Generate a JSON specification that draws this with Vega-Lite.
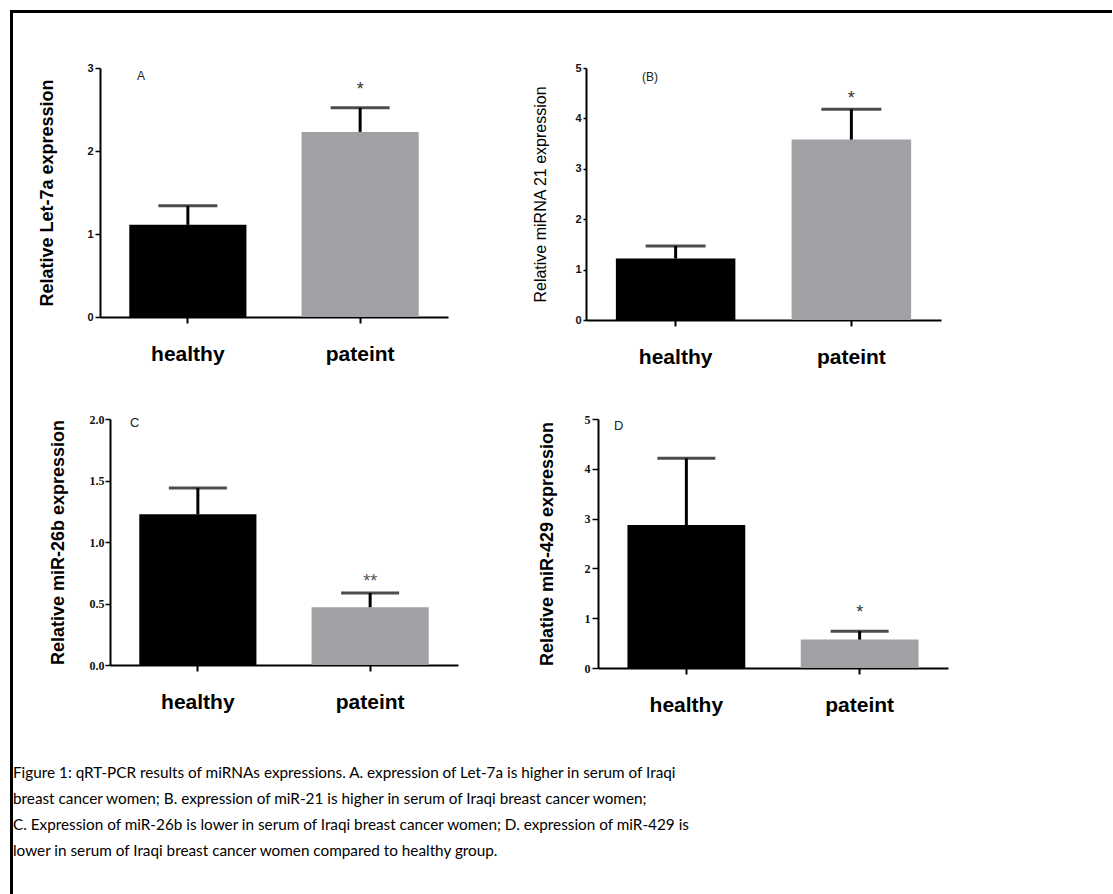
{
  "$schema": "https://vega.github.io/schema/vega-lite/v6.json",
  "padding": {"left": 10, "top": 10, "right": 0, "bottom": 0},
  "background": "white",
  "config": {
    "view": {"stroke": null},
    "font": "Liberation Sans",
    "axisX": {"title": null, "labelAngle": 0, "labelFontSize": 21, "labelFontWeight": "bold", "labelColor": "black", "labelPadding": 20, "domainColor": "black", "domainWidth": 2, "tickColor": "black", "tickSize": 6, "tickWidth": 2},
    "axisY": {"grid": false, "domainColor": "black", "domainWidth": 2, "tickColor": "black", "tickSize": 5, "tickWidth": 1.5, "labelFontSize": 11, "labelFontWeight": "bold", "labelPadding": 2, "labelColor": "#111", "titleColor": "black", "titleFontSize": 18, "titleFontWeight": "bold", "titleBaseline": "alphabetic"},
    "title": {"offset": 0, "anchor": "start", "frame": "group", "baseline": "alphabetic", "fontWeight": "normal", "color": "#222", "font": "Liberation Sans"}
  },
  "datasets": {
    "A": [{"group": "healthy", "mean": 1.11, "upper": 1.34, "sig": ""}, {"group": "pateint", "mean": 2.23, "upper": 2.52, "sig": "*"}],
    "B": [{"group": "healthy", "mean": 1.22, "upper": 1.47, "sig": ""}, {"group": "pateint", "mean": 3.58, "upper": 4.18, "sig": "*"}],
    "C": [{"group": "healthy", "mean": 1.225, "upper": 1.44, "sig": ""}, {"group": "pateint", "mean": 0.47, "upper": 0.585, "sig": "**"}],
    "D": [{"group": "healthy", "mean": 2.87, "upper": 4.21, "sig": ""}, {"group": "pateint", "mean": 0.57, "upper": 0.74, "sig": "*"}],
    "caption": [
      {"line": 1, "text": "Figure 1: qRT-PCR  results of miRNAs expressions. A. expression of Let-7a is higher in serum of Iraqi"},
      {"line": 2, "text": "breast cancer women; B. expression of miR-21 is higher in serum of Iraqi breast cancer women;"},
      {"line": 3, "text": "C. Expression of miR-26b is lower in serum of Iraqi breast cancer women; D. expression of miR-429 is"},
      {"line": 4, "text": "lower in serum of Iraqi breast cancer women compared to healthy group."}
    ],
    "none": []
  },
  "spacing": 0,
  "vconcat": [
    {"width": 1102, "height": 3, "data": {"name": "none"}, "mark": "point", "view": {"fill": "black", "stroke": null}},
    {
      "spacing": 0,
      "hconcat": [
        {"width": 3, "height": 881, "data": {"name": "none"}, "mark": "point", "view": {"fill": "black", "stroke": null}},
        {
          "spacing": 0,
          "vconcat": [
            {"width": 1, "height": 48.5, "data": {"name": "none"}, "mark": "point", "view": {"fill": "white", "stroke": null}},
            {
              "spacing": 0,
              "hconcat": [
                {"width": 24, "height": 1, "data": {"name": "none"}, "mark": "point", "view": {"fill": "white", "stroke": null}},
                {
                  "width": 348, "height": 249,
                  "data": {"name": "A"},
                  "title": {"text": "A", "dx": 37, "dy": 25, "fontSize": 12},
                  "encoding": {"x": {"field": "group", "type": "nominal", "sort": null, "scale": {"paddingInner": 0.32, "paddingOuter": 0.17}}},
                  "layer": [
                    {"mark": {"type": "bar"}, "encoding": {
                      "y": {"field": "mean", "type": "quantitative", "scale": {"domain": [0, 3], "nice": false}, "axis": {"title": "Relative Let-7a expression", "values": [0, 1, 2, 3], "format": "d", "titleX": -48}},
                      "color": {"field": "group", "type": "nominal", "scale": {"domain": ["healthy", "pateint"], "range": ["#000000", "#a1a0a5"]}, "legend": null}}},
                    {"mark": {"type": "rule", "strokeWidth": 3, "color": "black"}, "encoding": {"y": {"field": "mean", "type": "quantitative"}, "y2": {"field": "upper"}}},
                    {"mark": {"type": "tick", "size": 59, "thickness": 3, "color": "black"}, "encoding": {"y": {"field": "upper", "type": "quantitative"}}},
                    {"mark": {"type": "text", "fontSize": 18, "dy": -13, "baseline": "alphabetic", "color": "#333"}, "encoding": {"y": {"field": "upper", "type": "quantitative"}, "text": {"field": "sig"}}}
                  ]
                },
                {"width": 83, "height": 1, "data": {"name": "none"}, "mark": "point", "view": {"fill": "white", "stroke": null}},
                {
                  "width": 355, "height": 252,
                  "data": {"name": "B"},
                  "title": {"text": "(B)", "dx": 56, "dy": 26, "fontSize": 12},
                  "encoding": {"x": {"field": "group", "type": "nominal", "sort": null, "scale": {"paddingInner": 0.32, "paddingOuter": 0.17}}},
                  "layer": [
                    {"mark": {"type": "bar"}, "encoding": {
                      "y": {"field": "mean", "type": "quantitative", "scale": {"domain": [0, 5], "nice": false}, "axis": {"title": "Relative miRNA 21 expression", "values": [0, 1, 2, 3, 4, 5], "format": "d", "titleX": -41, "titleFontSize": 16, "titleFontWeight": "normal", "tickSize": 3}},
                      "color": {"field": "group", "type": "nominal", "scale": {"domain": ["healthy", "pateint"], "range": ["#000000", "#a1a0a5"]}, "legend": null}}},
                    {"mark": {"type": "rule", "strokeWidth": 3, "color": "black"}, "encoding": {"y": {"field": "mean", "type": "quantitative"}, "y2": {"field": "upper"}}},
                    {"mark": {"type": "tick", "size": 60, "thickness": 3, "color": "black"}, "encoding": {"y": {"field": "upper", "type": "quantitative"}}},
                    {"mark": {"type": "text", "fontSize": 18, "dy": -5, "baseline": "alphabetic", "color": "#333"}, "encoding": {"y": {"field": "upper", "type": "quantitative"}, "text": {"field": "sig"}}}
                  ]
                }
              ]
            },
            {"width": 1, "height": 46, "data": {"name": "none"}, "mark": "point", "view": {"fill": "white", "stroke": null}},
            {
              "spacing": 0,
              "hconcat": [
                {"width": 35, "height": 1, "data": {"name": "none"}, "mark": "point", "view": {"fill": "white", "stroke": null}},
                {
                  "width": 348, "height": 246,
                  "data": {"name": "C"},
                  "title": {"text": "C", "dx": 20, "dy": 21, "fontSize": 13},
                  "encoding": {"x": {"field": "group", "type": "nominal", "sort": null, "scale": {"paddingInner": 0.32, "paddingOuter": 0.17}}},
                  "layer": [
                    {"mark": {"type": "bar"}, "encoding": {
                      "y": {"field": "mean", "type": "quantitative", "scale": {"domain": [0, 2], "nice": false}, "axis": {"title": "Relative miR-26b expression", "values": [0, 0.5, 1, 1.5, 2], "format": ".1f", "titleX": -47, "labelFont": "Liberation Serif", "labelFontSize": 12, "labelPadding": 1}},
                      "color": {"field": "group", "type": "nominal", "scale": {"domain": ["healthy", "pateint"], "range": ["#000000", "#a1a0a5"]}, "legend": null}}},
                    {"mark": {"type": "rule", "strokeWidth": 3, "color": "black"}, "encoding": {"y": {"field": "mean", "type": "quantitative"}, "y2": {"field": "upper"}}},
                    {"mark": {"type": "tick", "size": 58, "thickness": 3, "color": "black"}, "encoding": {"y": {"field": "upper", "type": "quantitative"}}},
                    {"mark": {"type": "text", "fontSize": 18, "dy": -6, "baseline": "alphabetic", "color": "#555"}, "encoding": {"y": {"field": "upper", "type": "quantitative"}, "text": {"field": "sig"}}}
                  ]
                },
                {"width": 79, "height": 1, "data": {"name": "none"}, "mark": "point", "view": {"fill": "white", "stroke": null}},
                {
                  "width": 350, "height": 249,
                  "data": {"name": "D"},
                  "title": {"text": "D", "dx": 16, "dy": 24, "fontSize": 13},
                  "encoding": {"x": {"field": "group", "type": "nominal", "sort": null, "scale": {"paddingInner": 0.32, "paddingOuter": 0.17}}},
                  "layer": [
                    {"mark": {"type": "bar"}, "encoding": {
                      "y": {"field": "mean", "type": "quantitative", "scale": {"domain": [0, 5], "nice": false}, "axis": {"title": "Relative miR-429 expression", "values": [0, 1, 2, 3, 4, 5], "format": "d", "titleX": -46, "labelFont": "Liberation Serif", "labelFontSize": 12, "tickSize": 6}},
                      "color": {"field": "group", "type": "nominal", "scale": {"domain": ["healthy", "pateint"], "range": ["#000000", "#a1a0a5"]}, "legend": null}}},
                    {"mark": {"type": "rule", "strokeWidth": 3, "color": "black"}, "encoding": {"y": {"field": "mean", "type": "quantitative"}, "y2": {"field": "upper"}}},
                    {"mark": {"type": "tick", "size": 58, "thickness": 3, "color": "black"}, "encoding": {"y": {"field": "upper", "type": "quantitative"}}},
                    {"mark": {"type": "text", "fontSize": 18, "dy": -13, "baseline": "alphabetic", "color": "#333"}, "encoding": {"y": {"field": "upper", "type": "quantitative"}, "text": {"field": "sig"}}}
                  ]
                }
              ]
            },
            {"width": 1, "height": 45, "data": {"name": "none"}, "mark": "point", "view": {"fill": "white", "stroke": null}},
            {
              "width": 1084, "height": 104,
              "data": {"name": "caption"},
              "encoding": {
                "x": {"datum": 0, "type": "quantitative", "scale": {"domain": [0, 1]}, "axis": null},
                "y": {"field": "line", "type": "ordinal", "axis": null},
                "text": {"field": "text"}
              },
              "mark": {"type": "text", "align": "left", "font": "Lato", "fontSize": 15.3, "color": "black"}
            }
          ]
        }
      ]
    }
  ]
}
